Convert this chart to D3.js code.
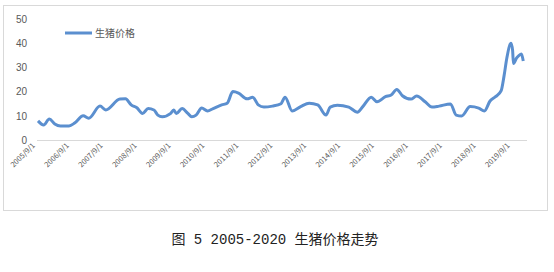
<!DOCTYPE html>
<html>
<head>
<meta charset="utf-8">
<script src="https://cdn.jsdelivr.net/npm/d3@7"></script>
<style>
  body { margin: 0; background: #fff; }
  text { font-family: "Noto Sans CJK SC", "DejaVu Sans", sans-serif; }
</style>
</head>
<body>
<svg id="chart" width="554" height="272"></svg>
<script>
var width = 554;
var height = 272;

// 生猪价格
var dates = ["2005-09-01","2005-11-01","2006-01-01","2006-03-01","2006-05-01","2006-08-01","2006-10-01",
  "2007-01-01","2007-03-01","2007-07-01","2007-09-01","2008-02-01","2008-04-01","2008-06-01","2008-08-01",
  "2008-10-01","2008-12-01","2009-02-01","2009-03-15","2009-05-01","2009-08-01","2009-09-01","2009-10-01",
  "2009-12-01","2010-02-01","2010-03-15","2010-05-01","2010-07-01","2010-09-01","2010-11-01","2011-02-01",
  "2011-04-01","2011-06-01","2011-08-01","2011-11-01","2012-01-01","2012-03-01","2012-05-01","2012-08-01",
  "2012-11-01","2012-12-15","2013-03-01","2013-06-01","2013-09-01","2013-12-01","2014-03-01","2014-04-15",
  "2014-07-01","2014-11-01","2015-02-01","2015-04-01","2015-07-01","2015-09-01","2015-12-01","2016-02-01",
  "2016-04-01","2016-06-01","2016-09-01","2016-11-01","2017-02-01","2017-04-15","2017-07-01","2017-11-01",
  "2018-01-01","2018-03-01","2018-06-01","2018-09-01","2018-11-01","2019-01-01","2019-03-01","2019-05-01",
  "2019-06-01","2019-07-01","2019-08-15","2019-09-01","2019-09-10","2019-10-15","2019-11-10","2019-12-05",
  "2019-12-25"];
var prices = [7.9,6.2,8.7,6.6,5.8,5.8,7.0,
  10.0,9.0,14.0,12.4,16.9,17.0,14.5,13.3,
  11.0,13.0,12.4,10.3,9.6,11.0,12.4,11.0,
  13.0,11.0,9.6,10.3,13.2,12.0,13.0,14.5,
  15.2,20.0,19.4,17.0,17.7,14.5,13.6,14.0,
  15.0,17.7,12.0,13.8,15.2,14.5,10.3,13.6,
  14.4,13.6,11.5,13.8,17.7,15.8,17.9,18.6,
  20.9,18.3,16.9,18.2,15.8,13.6,14.0,14.9,
  10.3,9.9,13.8,13.2,12.0,16.1,17.9,20.4,
  26.5,33.9,40.0,37.0,31.6,33.9,35.0,35.5,
  32.6];
var yTicks = [0, 10, 20, 30, 40, 50];
var xTickYears = [2005,2006,2007,2008,2009,2010,2011,2012,2013,2014,2015,2016,2017,2018,2019];
var seriesName = "生猪价格";
var title = "图 5 2005-2020 生猪价格走势";

var parse = d3.timeParse("%Y-%m-%d");
var data = dates.map(function(d, i) { return { date: parse(d), value: prices[i] }; });

var svg = d3.select("#chart");

// chart frame
svg.append("rect")
  .attr("x", 3.5).attr("y", 5.5)
  .attr("width", 544).attr("height", 205)
  .attr("fill", "#fff")
  .attr("stroke", "#d9d9d9");

var xScale = d3.scaleTime()
  .domain([new Date(2005, 8, 1), new Date(2019, 8, 1)])
  .range([38, 512.6]);
var yScale = d3.scaleLinear().domain([0, 50]).range([140, 19]);

// y axis labels
var yAxis = d3.axisLeft(yScale).tickValues(yTicks).tickSize(0).tickPadding(0);
var gy = svg.append("g").attr("transform", "translate(27,0)").call(yAxis);
gy.select(".domain").remove();
gy.selectAll("text").attr("fill", "#595959").style("font-size", "10px")
  .style("font-family", "'Liberation Sans', 'DejaVu Sans', sans-serif");

// x axis line
svg.append("line")
  .attr("x1", 37).attr("x2", 527)
  .attr("y1", yScale(0) + 0.5).attr("y2", yScale(0) + 0.5)
  .attr("stroke", "#d9d9d9");

// x labels
var xTicks = xTickYears.map(function(y) { return new Date(y, 8, 1); });
var xAxis = d3.axisBottom(xScale).tickValues(xTicks).tickSize(0)
  .tickFormat(d3.timeFormat("%Y/%-m/%-d"));
var gx = svg.append("g").attr("transform", "translate(0," + yScale(0) + ")").call(xAxis);
gx.select(".domain").remove();
gx.selectAll("text")
  .attr("fill", "#595959")
  .style("font-size", "7.5px")
  .style("text-anchor", "end")
  .attr("dy", null)
  .attr("y", 0)
  .attr("transform", "translate(-3,6) rotate(-45)");

// series line
var line = d3.line()
  .x(function(d) { return xScale(d.date); })
  .y(function(d) { return yScale(d.value); })
  .curve(d3.curveMonotoneX);

svg.append("path")
  .datum(data)
  .attr("d", line)
  .attr("fill", "none")
  .attr("stroke", "#5b8fcf")
  .attr("stroke-width", 3)
  .attr("stroke-linejoin", "round");

// legend
svg.append("line")
  .attr("x1", 65).attr("x2", 92)
  .attr("y1", 33).attr("y2", 33)
  .attr("stroke", "#5b8fcf").attr("stroke-width", 3);
svg.append("text")
  .attr("x", 95).attr("y", 37)
  .attr("fill", "#595959")
  .style("font-size", "10px")
  .text(seriesName);

// caption
svg.append("text")
  .attr("x", 275).attr("y", 244)
  .attr("text-anchor", "middle")
  .attr("fill", "#222")
  .style("font-size", "14px")
  .style("font-family", "'Liberation Mono', 'Noto Sans CJK SC', monospace")
  .text(title);
</script>
</body>
</html>
